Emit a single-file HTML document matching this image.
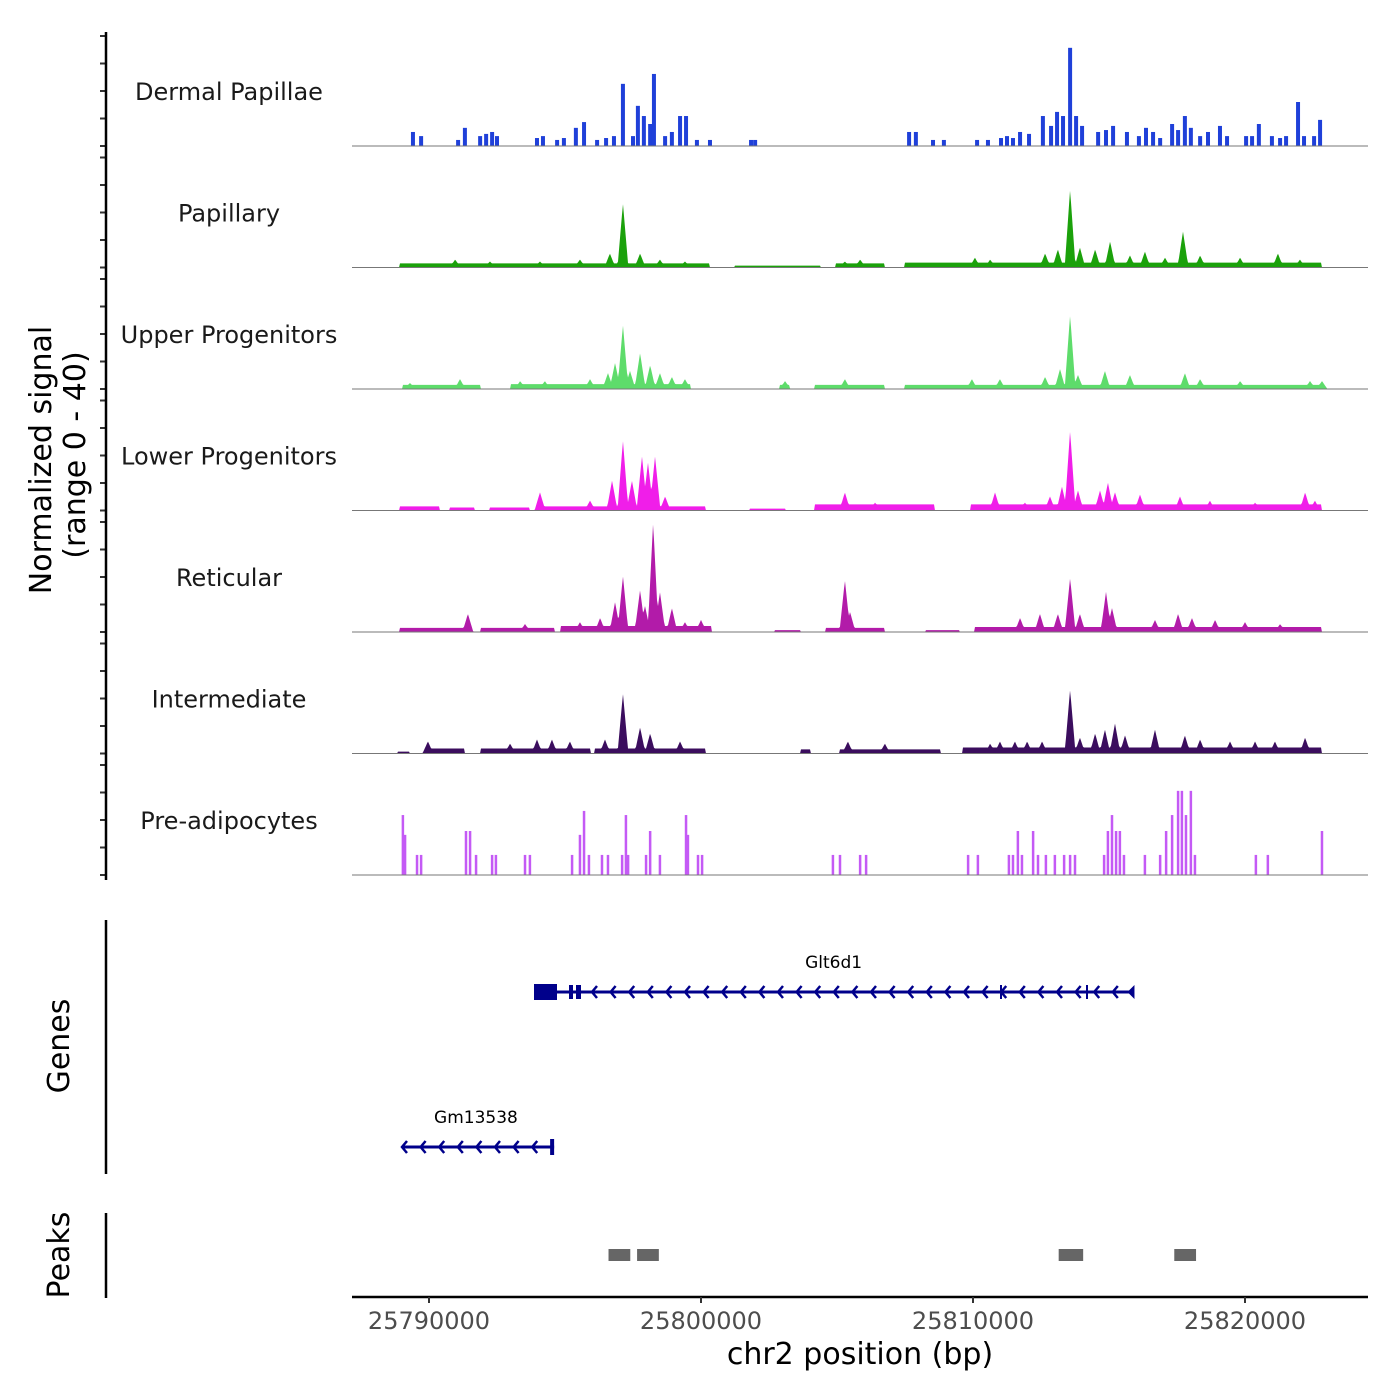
<!DOCTYPE html>
<html><head><meta charset="utf-8">
<style>
html,body{margin:0;padding:0;background:#fff;}
svg{display:block;font-family:"DejaVu Sans","Liberation Sans",sans-serif;}
</style></head>
<body>
<svg id="chart" width="1400" height="1400" viewBox="0 0 1400 1400" xmlns="http://www.w3.org/2000/svg">
<rect width="1400" height="1400" fill="#fff"/>
<g id="tracks"></g>
<g id="axes"></g>
<g id="genes"></g>
<g id="peaks"></g>
<text transform="translate(51,460) rotate(-90)" text-anchor="middle" font-size="30" fill="#000">Normalized signal</text>
<text transform="translate(85,455) rotate(-90)" text-anchor="middle" font-size="30" fill="#000">(range 0 - 40)</text>
<text transform="translate(69,1046) rotate(-90)" text-anchor="middle" font-size="30" fill="#000">Genes</text>
<text transform="translate(69,1255) rotate(-90)" text-anchor="middle" font-size="30" fill="#000">Peaks</text>
<text x="860" y="1364" text-anchor="middle" font-size="30" fill="#000">chr2 position (bp)</text>
</svg>
<script>
// ---- data (positions in kb offset from 25790000, values in signal units 0-40) ----
const trackNames = ["Dermal Papillae","Papillary","Upper Progenitors","Lower Progenitors","Reticular","Intermediate","Pre-adipocytes"];
const trackColors = ["#1f40d9","#1ba10b","#5edc6b","#f01ee9","#b21ba9","#3b0d5e","#c45af5"];
const xTicks = [25790000,25800000,25810000,25820000];

const dpPos = [-0.59,-0.29,1.07,1.32,1.88,2.10,2.32,2.50,3.97,4.19,4.71,4.96,5.40,5.70,6.18,6.51,6.80,7.13,7.50,7.68,7.90,8.13,8.27,8.68,8.93,9.23,9.45,9.85,10.33,11.84,11.99,17.65,17.90,18.53,18.93,20.15,20.55,21.03,21.25,21.47,21.73,22.06,22.57,22.87,23.09,23.31,23.57,23.79,24.01,24.60,24.89,25.15,25.66,26.10,26.36,26.62,26.88,27.32,27.54,27.79,28.01,28.35,28.64,29.08,29.34,30.04,30.26,30.51,30.99,31.29,31.51,31.95,32.17,32.54,32.76];
const dpVal = [5.1,3.6,2.2,6.6,3.6,4.4,5.1,3.6,2.9,3.6,2.2,2.9,6.6,8.7,2.2,2.9,3.6,22.6,3.6,14.6,10.9,8,26.2,3.6,5.1,10.9,10.9,2.2,2.2,2.2,2.2,5.1,5.1,2.2,2.2,2.2,2.2,2.9,3.6,2.9,5.1,4.4,10.9,7.3,12.4,10.9,35.7,10.9,7.3,5.1,5.8,7.3,5.1,3.6,6.6,5.1,2.9,8,5.8,10.9,6.6,3.6,5.1,7.3,3.6,3.6,3.6,8,3.6,2.9,3.6,16,3.6,3.6,9.5];

const papPeakPos = [0.96,2.24,4.08,5.55,6.65,7.13,7.76,8.49,9.41,15.29,15.85,20.07,20.63,22.65,23.12,23.57,23.93,24.49,25.04,25.77,26.32,27.06,27.72,28.35,29.82,31.21,32.02];
const papPeakVal = [2.9,2.2,2.2,2.9,5.1,23.3,5.1,2.9,2.2,2.2,2.9,3.6,2.9,5.1,6.6,28.4,7.3,6.6,9.5,4.4,5.8,3.6,13.1,4.4,3.6,5.1,2.9];
const papBg = [[-1.07,10.33,1.5],[11.25,14.38,0.7],[14.93,16.76,1.5],[17.5,32.83,1.8]];

const upPeakPos = [-0.70,1.14,3.35,4.26,5.92,6.58,6.84,7.13,7.39,7.76,8.13,8.49,8.93,9.41,13.09,15.29,19.96,20.99,22.65,23.2,23.57,23.86,24.85,25.77,27.79,28.35,29.82,32.39,32.83];
const upPeakVal = [2.2,3.6,2.9,2.9,3.6,5.8,9.5,23.3,6.6,13.1,8.7,5.8,4.4,3.6,2.9,3.6,3.6,3.6,4.4,7.3,26.9,5.1,6.6,5.1,5.8,3.6,2.9,2.9,2.9];
const upBg = [[-0.96,1.88,1.5],[2.98,9.6,1.8],[12.9,13.27,1.5],[14.19,16.76,1.5],[17.5,32.83,1.5]];

const lpPeakPos = [4.08,5.92,6.73,7.13,7.46,7.83,8.05,8.31,8.68,15.29,16.4,20.81,21.91,22.83,23.27,23.57,23.86,24.67,24.96,25.22,26.14,27.61,28.71,30.37,32.21,32.57];
const lpPeakVal = [6.6,3.6,10.9,25.5,10.9,19.7,17.5,19.7,5.1,6.6,2.9,6.6,2.9,5.1,8.7,29.1,7.3,7.3,10.2,6.6,5.8,5.1,3.6,2.9,6.6,3.6];
const lpBg = [[-1.07,0.40,1.5],[0.77,1.69,1.1],[2.24,3.71,1.1],[3.9,10.15,1.5],[11.8,13.09,0.7],[14.19,18.6,2.2],[19.89,32.83,2.2]];

const retPeakPos = [1.43,3.53,5.55,6.29,6.84,7.13,7.76,7.94,8.24,8.49,8.93,9.41,10.0,15.29,15.48,21.73,22.46,23.12,23.57,23.93,24.89,25.11,26.69,27.54,28.05,28.9,30.0,31.29];
const retPeakVal = [6.6,2.9,3.6,5.1,10.9,20.4,15.3,9.5,40,14.6,8.7,3.6,4.4,18.9,7.3,5.1,6.6,6.6,19.7,6.6,14.6,8.7,4.4,6.6,5.1,4.4,3.6,2.9];
const retBg = [[-1.07,1.51,1.5],[1.88,4.63,1.5],[4.82,10.4,2.2],[12.72,13.64,0.7],[14.56,16.76,1.5],[18.24,19.52,0.7],[20.07,32.83,1.8]];

const intPeakPos = [-0.04,2.98,3.97,4.52,5.18,6.47,7.13,7.76,8.13,9.23,15.4,16.76,20.63,20.99,21.54,21.99,22.54,23.57,23.93,24.49,24.85,25.22,25.59,26.69,27.79,28.35,29.45,30.37,31.1,32.21];
const intPeakVal = [4.4,3.6,5.1,5.1,4.4,5.1,21.8,9.5,7.3,4.4,4.4,3.6,3.6,4.4,4.4,4.4,4.4,23.3,5.8,7.3,8.7,10.9,6.6,8.7,6.6,5.1,4.4,4.4,4.4,5.8];
const intBg = [[-1.14,-0.7,0.7],[-0.15,1.32,1.8],[1.88,5.92,1.8],[6.1,10.15,1.8],[13.64,14.01,1.5],[15.11,18.79,1.5],[19.6,32.83,2.2]];

const paPos = [-0.96,-0.88,-0.44,-0.29,1.36,1.51,1.73,2.32,2.46,3.53,3.71,5.26,5.55,5.70,5.88,6.36,6.58,7.10,7.24,7.32,7.98,8.13,8.49,9.45,9.52,9.89,10.04,14.85,15.11,15.85,16.07,19.82,20.18,21.32,21.47,21.65,21.80,22.21,22.39,22.68,23.01,23.35,23.57,23.75,24.82,24.96,25.11,25.26,25.40,25.55,26.32,26.88,27.10,27.32,27.54,27.68,27.83,28.01,28.16,30.40,30.84,32.83];
const paVal = [21.8,14.6,7.3,7.3,16,16,7.3,7.3,7.3,7.3,7.3,7.3,14.6,23.3,7.3,7.3,7.3,7.3,21.8,7.3,7.3,16,7.3,21.8,14.6,7.3,7.3,7.3,7.3,7.3,7.3,7.3,7.3,7.3,7.3,16,7.3,16,7.3,7.3,7.3,7.3,7.3,7.3,7.3,16,21.8,16,16,7.3,7.3,7.3,16,21.8,30.6,30.6,21.8,30.6,7.3,7.3,7.3,16];

// ---- scales ----
const X0 = 429, PXPERBP = 272/10000, BASE = 25790000;
const xs = bp => X0 + (bp - BASE) * PXPERBP;
const xk = kb => xs(BASE + kb * 1000);
const PLOT_L = 352, PLOT_R = 1368;
const baseline = i => 146 + i * 121.5;
const ys = v => v * 2.75;
const NS = "http://www.w3.org/2000/svg";
const mk = (tag, attrs, parent) => { const e = document.createElementNS(NS, tag); for (const k in attrs) e.setAttribute(k, attrs[k]); parent.appendChild(e); return e; };

const tracksG = document.getElementById('tracks');
const axesG = document.getElementById('axes');

function areaPath(i, pos, val, bg) {
  const b = baseline(i), hw = 0.2;
  let pts = [];
  for (let px = PLOT_L; px <= PLOT_R; px++) {
    const kb = (px - X0) / 27.2;
    let v = 0;
    for (const s of bg) if (kb >= s[0] && kb <= s[1]) v = Math.max(v, s[2]);
    for (let j = 0; j < pos.length; j++) {
      const d = Math.abs(kb - pos[j]);
      if (d < hw) v = Math.max(v, val[j] * (1 - d / hw));
    }
    pts.push(px + ',' + (b - ys(v)).toFixed(1));
  }
  return 'M' + PLOT_L + ',' + b + ' L' + pts.join(' L') + ' L' + PLOT_R + ',' + b + ' Z';
}

const areaData = [null,[papPeakPos,papPeakVal,papBg],[upPeakPos,upPeakVal,upBg],[lpPeakPos,lpPeakVal,lpBg],[retPeakPos,retPeakVal,retBg],[intPeakPos,intPeakVal,intBg],null];

for (let i = 0; i < trackNames.length; i++) {
  const b = baseline(i);
  const g = mk('g', {}, tracksG);
  
  
  const lbl = mk('text', {x: 229, y: b - 46, 'text-anchor': 'middle', 'font-size': 24, fill: '#1a1a1a'}, g);
  lbl.textContent = trackNames[i];
  
  
  if (i === 0 || i === 6) {
    const pos = i === 0 ? dpPos : paPos, val = i === 0 ? dpVal : paVal, w = i === 0 ? 4 : 2.5;
    for (let j = 0; j < pos.length; j++) {
      const h = ys(val[j]);
      const r = mk('rect', {x: xk(pos[j]) - w / 2, y: b - h, width: w, height: h, fill: trackColors[i]}, g);
      
      
    }
  } else {
    const d = areaData[i];
    const p = mk('path', {d: areaPath(i, d[0], d[1], d[2]), fill: trackColors[i], stroke: 'none'}, g);
    
    
  }
  const ln = mk('line', {x1: PLOT_L, x2: PLOT_R, y1: b, y2: b, stroke: '#777', 'stroke-width': 1}, g);
  
  
  for (let t = 0; t <= 4; t++) {
    const ty = b - ys(t * 10);
    const tk = mk('line', {x1: 100, x2: 106, y1: ty, y2: ty, stroke: '#333', 'stroke-width': 2}, axesG);
    
    
  }
}
const yax = mk('line', {x1: 106, x2: 106, y1: 32, y2: 880, stroke: '#000', 'stroke-width': 2.5}, axesG);


const gax = mk('line', {x1: 106, x2: 106, y1: 920, y2: 1174, stroke: '#000', 'stroke-width': 2.5}, axesG);


const pax = mk('line', {x1: 106, x2: 106, y1: 1213, y2: 1298, stroke: '#000', 'stroke-width': 2.5}, axesG);


const xax = mk('line', {x1: PLOT_L, x2: PLOT_R, y1: 1297, y2: 1297, stroke: '#000', 'stroke-width': 2.5}, axesG);


for (const t of xTicks) {
  const tk = mk('line', {x1: xs(t), x2: xs(t), y1: 1297, y2: 1303, stroke: '#333', 'stroke-width': 2}, axesG);
  
  
  const tl = mk('text', {x: xs(t), y: 1329, 'text-anchor': 'middle', 'font-size': 24, fill: '#4d4d4d'}, axesG);
  tl.textContent = t;
  
  
}

// ---- genes ----
const geneStarts = [25794000, 25789000];
const geneEnds = [25815900, 25794600];
const geneNames = ["Glt6d1", "Gm13538"];
const geneRows = [992, 1147];
const genesG = document.getElementById('genes');
const NAVY = '#00008b';
for (let g = 0; g < geneNames.length; g++) {
  const y = geneRows[g], x1 = xs(geneStarts[g]), x2 = xs(geneEnds[g]);
  const grp = mk('g', {}, genesG);
  
  
  mk('line', {x1: x1, x2: x2, y1: y, y2: y, stroke: NAVY, 'stroke-width': 3}, grp);
  const lab = mk('text', {x: (x1 + x2) / 2 - 2, y: y - 24, 'text-anchor': 'middle', 'font-size': 17, fill: '#000'}, grp);
  lab.textContent = geneNames[g];
  
  
  const startC = g === 0 ? 592 : 402, endC = g === 0 ? 1118 : 540;
  for (let cx = startC; cx <= endC; cx += 18.6) {
    mk('polyline', {points: (cx + 5) + ',' + (y - 6) + ' ' + cx + ',' + y + ' ' + (cx + 5) + ',' + (y + 6), fill: 'none', stroke: NAVY, 'stroke-width': 2.5}, grp);
  }
  if (g === 0) {
    mk('rect', {x: 534, y: y - 8, width: 23, height: 16, fill: NAVY}, grp);
    mk('rect', {x: 569, y: y - 7, width: 4, height: 14, fill: NAVY}, grp);
    mk('rect', {x: 576, y: y - 7, width: 5, height: 14, fill: NAVY}, grp);
    mk('line', {x1: 1001, x2: 1001, y1: y - 7, y2: y + 7, stroke: NAVY, 'stroke-width': 2}, grp);
    mk('line', {x1: 1087, x2: 1087, y1: y - 7, y2: y + 7, stroke: NAVY, 'stroke-width': 2}, grp);
    mk('polygon', {points: (x2 - 6) + ',' + y + ' ' + (x2 + 1) + ',' + (y - 7) + ' ' + (x2 + 1) + ',' + (y + 7), fill: NAVY}, grp);
  } else {
    mk('rect', {x: x2 - 4, y: y - 8, width: 4, height: 16, fill: NAVY}, grp);
  }
}

// ---- peaks ----
const peakStarts = [25796600, 25797650, 25813150, 25817400];
const peakEnds = [25797400, 25798450, 25814050, 25818200];
const peaksG = document.getElementById('peaks');
for (let p = 0; p < peakStarts.length; p++) {
  const r = mk('rect', {x: xs(peakStarts[p]), y: 1249, width: xs(peakEnds[p]) - xs(peakStarts[p]), height: 12, fill: '#666'}, peaksG);
  
  
}
</script>
</body></html>
